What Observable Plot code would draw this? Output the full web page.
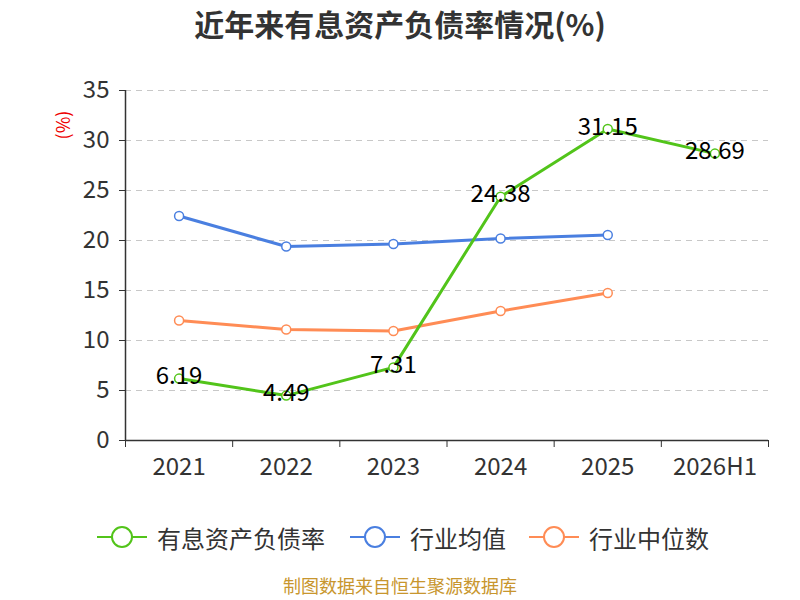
<!DOCTYPE html>
<html><head><meta charset="utf-8">
<script src="https://cdn.jsdelivr.net/npm/d3@7"></script>
<script src="https://cdn.jsdelivr.net/npm/@observablehq/plot@0.6"></script>
<style>
body{margin:0;background:#fff;font-family:"Noto Sans CJK SC","Noto Sans",sans-serif;}
#wrap{position:relative;width:800px;height:600px;overflow:hidden;}
#title{position:absolute;top:2px;left:0;width:800px;text-align:center;font-size:30px;font-weight:bold;color:#333;line-height:42px;}
#chart{position:absolute;top:50px;left:0;}
#ylab{position:absolute;left:48px;top:112px;color:#e00;font-size:18px;transform:rotate(-90deg);transform-origin:center;}
#legend{position:absolute;top:519px;left:0;width:800px;height:36px;}
.item{position:absolute;top:0;display:flex;align-items:center;font-size:24px;color:#333;}
#caption{position:absolute;top:575px;left:0;width:800px;text-align:center;font-size:18px;line-height:21px;color:#c8962e;}
</style></head>
<body><div id="wrap">
<div id="title">近年来有息资产负债率情况(%)</div>
<div id="ylab">(%)</div>
<div id="chart"></div>
<div id="legend"></div>
<div id="caption">制图数据来自恒生聚源数据库</div>
</div>
<script>
const categories = ["2021","2022","2023","2024","2025","2026H1"];
const ratio = [6.19,4.49,7.31,24.38,31.15,28.69];
const industryAvg = [22.45,19.4,19.65,20.2,20.55];
const industryMedian = [12.0,11.1,10.95,12.95,14.75];
const yTicks = [0,5,10,15,20,25,30,35];
const seriesNames = ["有息资产负债率","行业均值","行业中位数"];
const colors = ["#52c41a","#4a7fe0","#ff8c55"];

const rows = (vals) => vals.map((v,i)=>({x:i+0.5, y:v, label:categories[i]}));
const rRows = rows(ratio), aRows = rows(industryAvg), mRows = rows(industryMedian);
const boundaries = d3.range(0, categories.length+1);

const plot = Plot.plot({
  width:800, height:435,
  marginTop:40, marginBottom:45, marginLeft:125, marginRight:32,
  style:{fontFamily:'"Noto Sans CJK SC","Noto Sans",sans-serif', background:"transparent"},
  x:{type:"linear", domain:[0,categories.length]},
  y:{domain:[0,35]},
  marks:[
    Plot.ruleY(yTicks.filter(d=>d>0), {stroke:"#c8c8c8", strokeDasharray:"6,5", strokeWidth:1.2}),
    Plot.axisY({ticks:yTicks, tickSize:6, tickPadding:10, fontSize:24, color:"#333", tickFormat:d=>String(d), label:null, stroke:"#333"}),
    Plot.axisX({ticks:boundaries, tickSize:7, tickFormat:()=>"", label:null, stroke:"#333"}),
    Plot.axisX({ticks:categories.map((c,i)=>i+0.5), tickSize:0, tickPadding:17, fontSize:24, color:"#333", tickFormat:(d)=>categories[Math.round(d-0.5)], label:null}),
    Plot.ruleY([0], {stroke:"#333", strokeWidth:1.5}),
    Plot.ruleX([0], {stroke:"#333", strokeWidth:1.5}),
    Plot.line(aRows, {x:"x", y:"y", stroke:colors[1], strokeWidth:3}),
    Plot.line(mRows, {x:"x", y:"y", stroke:colors[2], strokeWidth:3}),
    Plot.line(rRows, {x:"x", y:"y", stroke:colors[0], strokeWidth:3}),
    Plot.dot(aRows, {x:"x", y:"y", r:4.5, fill:"#fff", stroke:colors[1], strokeWidth:1.5}),
    Plot.dot(mRows, {x:"x", y:"y", r:4.5, fill:"#fff", stroke:colors[2], strokeWidth:1.5}),
    Plot.dot(rRows, {x:"x", y:"y", r:4.5, fill:"#fff", stroke:colors[0], strokeWidth:1.5}),
    Plot.text(rRows, {x:"x", y:"y", text:d=>d.y.toFixed(2), dy:-2, fontSize:24, fill:"#000"})
  ]
});
document.getElementById("chart").appendChild(plot);

// legend
const legend = d3.select("#legend");
const lefts = [97, 350, 529];
seriesNames.forEach((name,i)=>{
  const it = legend.append("div").attr("class","item").style("left", lefts[i]+"px");
  const s = it.append("svg").attr("width",50).attr("height",36);
  s.append("line").attr("x1",0).attr("x2",50).attr("y1",18).attr("y2",18).attr("stroke",colors[i]).attr("stroke-width",2);
  s.append("circle").attr("cx",25).attr("cy",18).attr("r",10).attr("fill","#fff").attr("stroke",colors[i]).attr("stroke-width",2);
  it.append("span").style("margin-left","10px").text(name);
});
</script>
</body></html>
